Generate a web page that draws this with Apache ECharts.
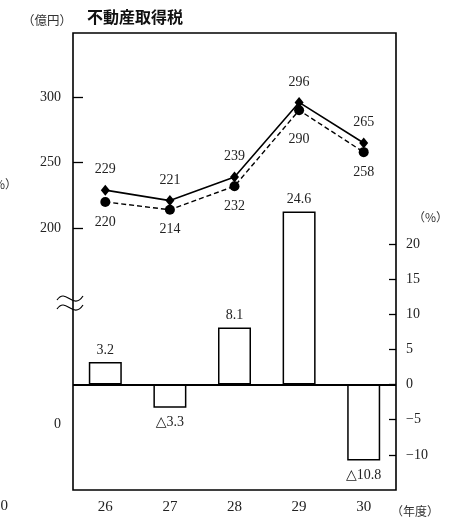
<!DOCTYPE html>
<html>
<head>
<meta charset="utf-8">
<script src="https://cdn.jsdelivr.net/npm/echarts@6/dist/echarts.min.js"></script>
<style>
html,body{margin:0;padding:0;background:#fff;}
#c{width:463px;height:518px;}
</style>
</head>
<body>
<div id="c"></div>
<script>
const years = ['26', '27', '28', '29', '30'];
const budget = [229, 221, 239, 296, 265];      // 実線・◆
const actual = [220, 214, 232, 290, 258];      // 破線・●
const growth = [3.2, -3.3, 8.1, 24.6, -10.8];  // 伸び率（%）
const leftLabels = [50, 200, 250, 300];
const leftTicks = [200, 250, 300];
const rightTicks = [-10, -5, 0, 5, 10, 15, 20];

const serif = "'Liberation Serif', 'DejaVu Serif', 'Noto Sans CJK JP', serif";
const txt = {fontFamily: serif, fontSize: 14, color: '#222'};

const barData = growth.map(v => ({
  value: v,
  label: v < 0 ? {position: 'bottom', distance: 8} : {position: 'top', distance: 5}
}));
const actualData = actual.map((v, i) => (i === 3 ? {value: v, label: {distance: 17}} : v));

const chart = echarts.init(document.getElementById('c'));
chart.setOption({
  animation: false,
  backgroundColor: '#fff',
  title: {
    text: '不動産取得税', left: 82, top: 4,
    textStyle: {fontFamily: "'Noto Sans CJK JP', sans-serif", fontWeight: 'bold', fontSize: 16, color: '#111'}
  },
  grid: {left: 73, right: 67, top: 33, bottom: 28, show: true, borderColor: '#000', borderWidth: 1.6, backgroundColor: 'transparent'},
  xAxis: {
    type: 'category', data: years, boundaryGap: true,
    axisLine: {show: false}, axisTick: {show: false},
    axisLabel: Object.assign({}, txt, {margin: 10, fontSize: 15})
  },
  yAxis: [
    {
      type: 'value', min: 0, max: 349, position: 'left',
      splitLine: {show: false}, axisLine: {show: false},
      axisTick: {show: true, inside: true, length: 10, customValues: leftTicks, lineStyle: {color: '#000', width: 1.3}},
      axisLabel: Object.assign({margin: 12, customValues: leftLabels, formatter: v => v === 50 ? '0' : String(v)}, txt)
    },
    {
      type: 'value', min: -15, max: 50, interval: 5, position: 'right',
      splitLine: {show: false}, axisLine: {show: false},
      axisTick: {show: true, inside: true, length: 7, customValues: rightTicks, lineStyle: {color: '#000', width: 1.3}},
      axisLabel: Object.assign({margin: 10, customValues: rightTicks, formatter: v => v < 0 ? '\u2212' + Math.abs(v) : String(v)}, txt)
    }
  ],
  series: [
    {
      type: 'bar', yAxisIndex: 1, data: barData, barWidth: 33, z: 2,
      itemStyle: {color: '#fff', borderColor: '#000', borderWidth: 1.5},
      label: {
        show: true, ...txt,
        formatter: p => p.value < 0 ? '△' + Math.abs(p.value) : String(p.value)
      },
      markLine: {
        silent: true, symbol: 'none', label: {show: false},
        lineStyle: {color: '#000', width: 2, type: 'solid'},
        data: [{yAxis: 0}]
      }
    },
    {
      type: 'line', yAxisIndex: 0, data: budget, z: 5,
      symbol: 'diamond', symbolSize: [9, 11],
      lineStyle: {color: '#000', width: 1.6},
      itemStyle: {color: '#000'},
      label: {show: true, position: 'top', distance: 8, ...txt}
    },
    {
      type: 'line', yAxisIndex: 0, data: actualData, z: 4,
      symbol: 'circle', symbolSize: 10,
      lineStyle: {color: '#000', width: 1.4, type: [5, 3]},
      itemStyle: {color: '#000'},
      label: {show: true, position: 'bottom', distance: 8, ...txt}
    }
  ],
  graphic: [
    {type: 'text', left: 22, top: 14, style: {text: '（億円）', font: "12.5px 'Noto Sans CJK JP'", fill: '#333'}},
    {type: 'text', left: 413, top: 211, style: {text: '（%）', font: "12px 'Noto Sans CJK JP'", fill: '#333'}},
    {type: 'text', left: 391, top: 505, style: {text: '（年度）', font: "12px 'Noto Sans CJK JP'", fill: '#333'}},
    {type: 'text', left: -18, top: 178, style: {text: '（%）', font: "12px 'Noto Sans CJK JP'", fill: '#333'}},
    {type: 'text', left: -7, top: 499, style: {text: '30', font: "15px 'Liberation Serif'", fill: '#222'}},
    {type: 'bezierCurve', shape: {x1: 57, y1: 300, cpx1: 66, cpy1: 287, cpx2: 73, cpy2: 311, x2: 83, y2: 296}, style: {stroke: '#000', lineWidth: 1.2, fill: null}},
    {type: 'bezierCurve', shape: {x1: 57, y1: 309, cpx1: 66, cpy1: 296, cpx2: 73, cpy2: 320, x2: 83, y2: 305}, style: {stroke: '#000', lineWidth: 1.2, fill: null}}
  ]
});
</script>
</body>
</html>
